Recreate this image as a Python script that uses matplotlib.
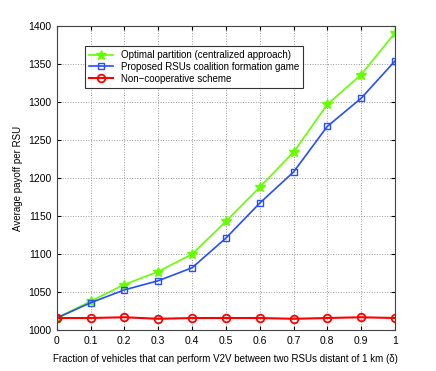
import numpy as np
import matplotlib
matplotlib.use("Agg")
import matplotlib.pyplot as plt

plt.rcParams['font.family'] = ['Liberation Sans', 'DejaVu Sans']

delta = [0, 0.1, 0.2, 0.3, 0.4, 0.5, 0.6, 0.7, 0.8, 0.9, 1]
optimal = [1016, 1038, 1060, 1077, 1100, 1143, 1188, 1234, 1297, 1336, 1391]
proposed = [1016, 1036, 1053, 1065, 1082, 1121, 1167, 1208, 1268, 1305, 1354]
noncoop = [1016, 1016, 1017, 1015, 1016, 1016, 1016, 1015, 1016, 1017, 1016]

fig = plt.figure(figsize=(4.36, 3.71), dpi=100)
ax = fig.add_axes([0.13, 0.11, 0.776, 0.82])

ax.plot(delta, optimal, color=(0.4, 1, 0), marker='*', markersize=7, lw=1.2,
        label='Optimal partition (centralized approach)')
ax.plot(delta, proposed, color=(0.15, 0.3, 1), marker='s', markersize=4.5, mfc='none', lw=1.2,
        label='Proposed RSUs coalition formation game')
ax.plot(delta, noncoop, color='red', marker='o', markersize=5.5, mfc='none', mew=1.3, lw=1.5,
        label='Non\u2212cooperative scheme')

ax.set_xlim(0, 1)
ax.set_ylim(1000, 1400)
ax.set_xticks(np.arange(0, 1.01, 0.1))
ax.set_xticklabels(['0', '0.1', '0.2', '0.3', '0.4', '0.5', '0.6', '0.7', '0.8', '0.9', '1'])
ax.set_yticks(np.arange(1000, 1401, 50))
ax.tick_params(labelsize=7.5, direction='in', length=3, top=True, right=True)
ax.tick_params(axis='x', pad=4)
ax.grid(True, linestyle=':', color='#999999', lw=0.7)
ax.set_xlabel('Fraction of vehicles that can perform V2V between two RSUs distant of 1 km (\u03b4)',
              fontsize=7, labelpad=6)
ax.set_ylabel('Average payoff per RSU', fontsize=7)
for s in ax.spines.values():
    s.set_color('#444444')

leg = ax.legend(loc='upper left', bbox_to_anchor=(0.07, 0.95), fontsize=7, fancybox=False,
                edgecolor='black', handlelength=2.5, labelspacing=0.2, borderpad=0.4)
leg.get_frame().set_linewidth(0.8)

fig.savefig('out.png', dpi=100, facecolor='white')
